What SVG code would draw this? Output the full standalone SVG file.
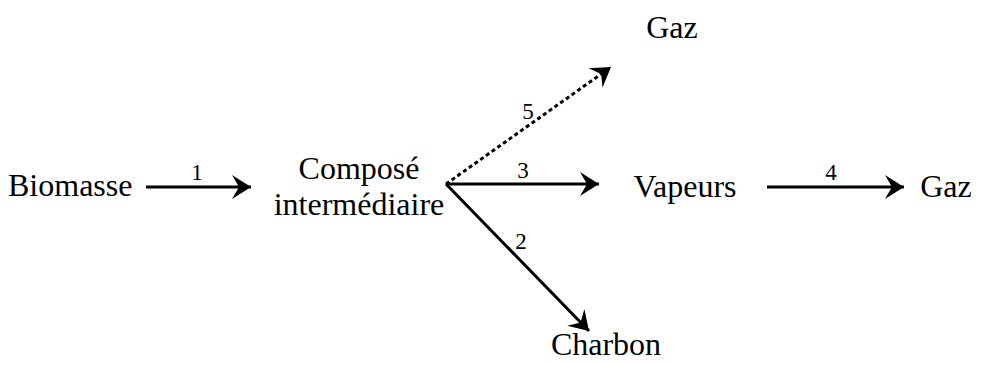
<svg xmlns="http://www.w3.org/2000/svg" width="986" height="365" viewBox="0 0 986 365">
<style>
.t{font-family:"Liberation Serif","Times New Roman",serif;font-size:32px;fill:#000}
.n{font-family:"Liberation Serif","Times New Roman",serif;font-size:23px;fill:#000}
.a{fill:none;stroke:#000;stroke-width:3}
</style>
<defs>
<marker id="ah" markerUnits="userSpaceOnUse" markerWidth="40" markerHeight="40" viewBox="-20 -20 40 40" refX="0" refY="0" orient="auto" overflow="visible">
<path d="M0,0 L-19,-12 L-12,0 L-19,12 Z" fill="#000"/>
</marker>
</defs>
<g id="biomasse"><text class="t" x="8" y="196">Biomasse</text></g>
<g id="compose"><text class="t" x="359" y="179" text-anchor="middle" font-size="31">Composé</text><text class="t" x="359" y="215" text-anchor="middle" font-size="31">intermédiaire</text></g>
<g id="gaz1"><text class="t" x="672" y="38" text-anchor="middle">Gaz</text></g>
<g id="vapeurs"><text class="t" x="685" y="197" text-anchor="middle">Vapeurs</text></g>
<g id="gaz2"><text class="t" x="946" y="197" text-anchor="middle">Gaz</text></g>
<g id="charbon"><text class="t" x="606" y="355" text-anchor="middle">Charbon</text></g>
<g id="connectors">
<line class="a" x1="146" y1="187" x2="251" y2="187" marker-end="url(#ah)"/>
<line class="a" x1="446" y1="184" x2="599" y2="184" marker-end="url(#ah)"/>
<line class="a" x1="446" y1="184" x2="611" y2="67" stroke-width="2.5" stroke-dasharray="4,3" marker-end="url(#ah)"/>
<line class="a" x1="446" y1="184" x2="589" y2="331" stroke-width="2" marker-end="url(#ah)"/>
<line class="a" x1="767" y1="187" x2="904" y2="187" marker-end="url(#ah)"/>
<text class="n" x="197" y="180" text-anchor="middle">1</text>
<text class="n" x="528" y="119" text-anchor="middle">5</text>
<text class="n" x="523" y="178" text-anchor="middle">3</text>
<text class="n" x="521" y="249" text-anchor="middle">2</text>
<text class="n" x="831" y="180" text-anchor="middle" font-family="Liberation Sans, Arial, sans-serif" font-size="21">4</text>
</g>
</svg>
